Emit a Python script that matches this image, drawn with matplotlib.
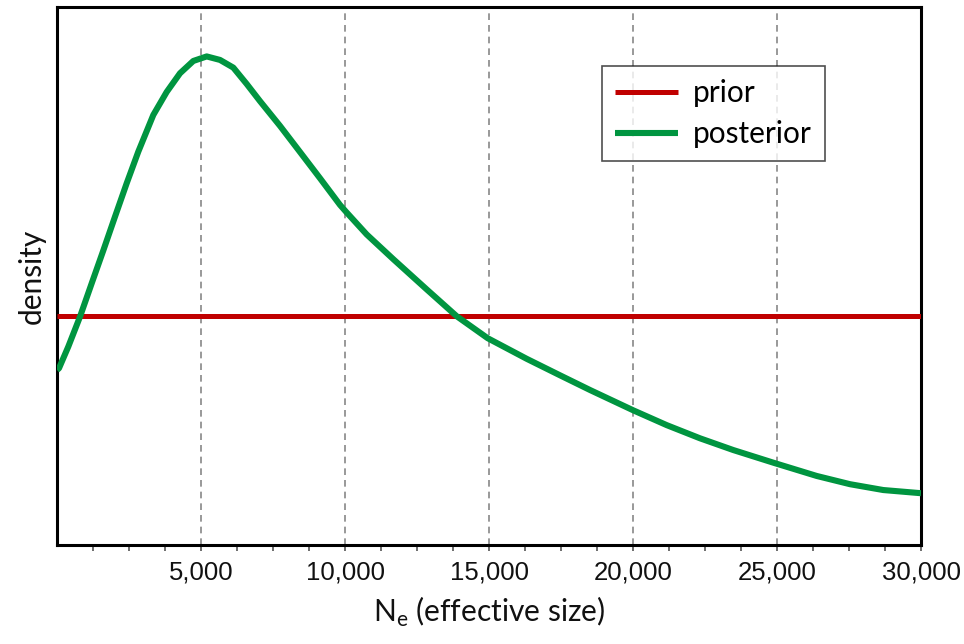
import matplotlib
matplotlib.use("Agg")
import matplotlib.pyplot as plt
from matplotlib.ticker import FixedLocator, FuncFormatter
import numpy as np

# ---- data (density in units of 1e-5) ----
ne_values = [0, 69, 392, 799, 1205, 1608, 2014, 2420, 2823, 3344, 3809, 4271,
             4733, 5198, 5660, 6122, 6587, 7049, 7743, 8437, 9132, 9826, 10035,
             10753, 11677, 12837, 13878, 14954, 16309, 17465, 18507, 20010,
             21169, 22326, 23483, 24896, 26378, 27535, 28690, 29965, 30000]
posterior = [2.547, 2.572, 2.887, 3.323, 3.809, 4.287, 4.779, 5.265, 5.725, 6.259,
             6.594, 6.866, 7.045, 7.111, 7.060, 6.948, 6.710, 6.460, 6.100, 5.720,
             5.338, 4.950, 4.850, 4.520, 4.160, 3.720, 3.330, 3.010, 2.710, 2.470,
             2.256, 1.960, 1.745, 1.553, 1.382, 1.195, 1.005, 0.885, 0.800, 0.755,
             0.754]
prior_x = [0, 30000]
prior = [3.333, 3.333]
major_ticks = [5000, 10000, 15000, 20000, 25000, 30000]
minor_step = 1250
x_label = "N$_\\mathregular{e}$ (effective size)"
y_label = "density"
series_labels = ["prior", "posterior"]

RED = "#C00000"
GREEN = "#009540"

tick_font = ["Liberation Sans", "DejaVu Sans"]
label_font = ["Lato", "DejaVu Sans"]

fig = plt.figure(figsize=(9.64, 6.44), dpi=100)
ax = fig.add_axes([57/964, 1-545/644, (921-57)/964, (545-7)/644])

ax.plot(prior_x, prior, color=RED, lw=3.6, solid_capstyle="butt",
        label=series_labels[0], zorder=3)
ax.plot(ne_values, posterior, color=GREEN, lw=4.4, solid_capstyle="butt",
        solid_joinstyle="round", label=series_labels[1], zorder=4)

ax.set_xlim(0, 30000)
ax.set_ylim(0, 538 / 229 * 3.333)

ax.xaxis.set_major_locator(FixedLocator(major_ticks))
minor = [v for v in np.arange(minor_step, 30000 + 1, minor_step) if v not in major_ticks]
ax.xaxis.set_minor_locator(FixedLocator(minor))
ax.xaxis.set_major_formatter(FuncFormatter(lambda v, p: f"{int(v):,}"))
ax.set_yticks([])

ax.tick_params(axis="x", which="both", direction="out", length=4, width=1.2,
               color="#555555", pad=7, labelsize=18.5)
for t in ax.get_xticklabels():
    t.set_family(tick_font)
    t.set_color("#111111")

ax.grid(axis="x", which="major", color="#888888", linestyle=(0, (4, 3)), lw=1.2, zorder=1)

for s in ax.spines.values():
    s.set_linewidth(2.2)
    s.set_color("black")

ax.set_xlabel(x_label, fontsize=21.5, family=label_font, labelpad=8, color="#111111")
ax.set_ylabel(y_label, fontsize=21.5, family=label_font, labelpad=8, color="#111111")

leg = ax.legend(loc="upper left", bbox_to_anchor=(602/964, 1-66/644),
                bbox_transform=fig.transFigure, frameon=True, fancybox=False,
                edgecolor="#222222", prop={"family": label_font, "size": 21.5},
                handlelength=2.1, handletextpad=0.5, borderpad=0.45, labelspacing=0.42,
                borderaxespad=0)
leg.get_frame().set_linewidth(1.2)

fig.savefig("out.png", dpi=100, facecolor="white")
